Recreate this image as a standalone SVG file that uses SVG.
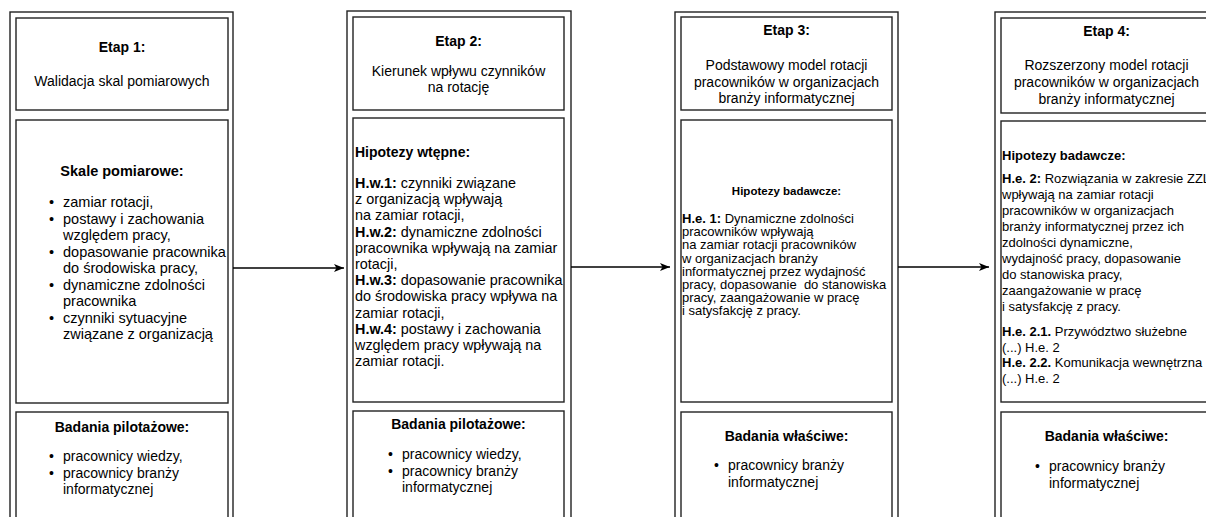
<svg xmlns="http://www.w3.org/2000/svg" width="1206" height="517" viewBox="0 0 1206 517">
  <defs>
    <marker id="arrow" markerWidth="11" markerHeight="10" refX="10" refY="5" orient="auto" markerUnits="userSpaceOnUse">
      <path d="M0,1 L10,5 L0,9 L2.5,5 Z" fill="#000"/>
    </marker>
    <style>
      .frame { fill: #fff; stroke: #222; stroke-width: 1.4; }
      .box { fill: #fff; stroke: #222; stroke-width: 1.4; }
      .link { stroke: #000; stroke-width: 1.3; fill: none; marker-end: url(#arrow); }
      text { font-family: "Liberation Sans", Arial, sans-serif; font-size: 14px; fill: #000; }
      .c { text-anchor: middle; }
      .b { font-weight: bold; }
      .m { font-size: 14.5px; }
      .h { font-size: 14.4px; }
      .s { font-size: 13px; }
      .xs { font-size: 11.5px; }
    </style>
  </defs>
  <rect width="1206" height="517" fill="#fff"/>

  <!-- Stage 1 -->
  <g id="stage1">
    <rect class="frame" x="10" y="12" width="223" height="530"/>
    <rect class="box" x="16" y="18" width="212" height="92"/>
    <text class="c b" x="122" y="52">Etap 1:</text>
    <text class="c" x="122" y="86">Walidacja skal pomiarowych</text>
    <rect class="box" x="16" y="120" width="212" height="283"/>
    <text class="c b m" x="122" y="176">Skale pomiarowe:</text>
    <g class="m">
      <text class="m" x="49" y="207">•</text><text class="m" x="63" y="207">zamiar rotacji,</text>
      <text class="m" x="49" y="223.5">•</text><text class="m" x="63" y="223.5">postawy i zachowania</text>
      <text class="m" x="63" y="240">względem pracy,</text>
      <text class="m" x="49" y="256.5">•</text><text class="m" x="63" y="256.5">dopasowanie pracownika</text>
      <text class="m" x="63" y="273">do środowiska pracy,</text>
      <text class="m" x="49" y="289.5">•</text><text class="m" x="63" y="289.5">dynamiczne zdolności</text>
      <text class="m" x="63" y="306">pracownika</text>
      <text class="m" x="49" y="322.5">•</text><text class="m" x="63" y="322.5">czynniki sytuacyjne</text>
      <text class="m" x="63" y="339">związane z organizacją</text>
    </g>
    <rect class="box" x="16" y="412" width="212" height="130"/>
    <text class="c b" x="122" y="432">Badania pilotażowe:</text>
    <text x="49" y="461">•</text><text x="63" y="461">pracownicy wiedzy,</text>
    <text x="49" y="477.5">•</text><text x="63" y="477.5">pracownicy branży</text>
    <text x="63" y="494">informatycznej</text>
  </g>

  <!-- Stage 2 -->
  <g id="stage2">
    <rect class="frame" x="347" y="11" width="224" height="530"/>
    <rect class="box" x="353" y="17" width="211" height="93"/>
    <text class="c b" x="458.5" y="46">Etap 2:</text>
    <text class="c" x="458.5" y="76">Kierunek wpływu czynników</text>
    <text class="c" x="458.5" y="92">na rotację</text>
    <rect class="box" x="353" y="118" width="211" height="284"/>
    <text class="b" x="355" y="157">Hipotezy wtępne:</text>
    <g class="h">
      <text class="h" x="355" y="188"><tspan class="b">H.w.1:</tspan> czynniki związane</text>
      <text class="h" x="355" y="204.2">z organizacją wpływają</text>
      <text class="h" x="355" y="220.4">na zamiar rotacji,</text>
      <text class="h" x="355" y="236.6"><tspan class="b">H.w.2:</tspan> dynamiczne zdolności</text>
      <text class="h" x="355" y="252.8">pracownika wpływają na zamiar</text>
      <text class="h" x="355" y="269">rotacji,</text>
      <text class="h" x="355" y="285.2"><tspan class="b">H.w.3:</tspan> dopasowanie pracownika</text>
      <text class="h" x="355" y="301.4">do środowiska pracy wpływa na</text>
      <text class="h" x="355" y="317.6">zamiar rotacji,</text>
      <text class="h" x="355" y="333.8"><tspan class="b">H.w.4:</tspan> postawy i zachowania</text>
      <text class="h" x="355" y="350">względem pracy wpływają na</text>
      <text class="h" x="355" y="366.2">zamiar rotacji.</text>
    </g>
    <rect class="box" x="353" y="411" width="211" height="130"/>
    <text class="c b" x="458.5" y="429">Badania pilotażowe:</text>
    <text x="388" y="459">•</text><text x="402" y="459">pracownicy wiedzy,</text>
    <text x="388" y="475.5">•</text><text x="402" y="475.5">pracownicy branży</text>
    <text x="402" y="492">informatycznej</text>
  </g>

  <!-- Stage 3 -->
  <g id="stage3">
    <rect class="frame" x="675" y="12" width="223" height="530"/>
    <rect class="box" x="681" y="17" width="211" height="93"/>
    <text class="c b" x="786.5" y="35">Etap 3:</text>
    <text class="c" x="786.5" y="70">Podstawowy model rotacji</text>
    <text class="c" x="786.5" y="86.5">pracowników w organizacjach</text>
    <text class="c" x="786.5" y="103">branży informatycznej</text>
    <rect class="box" x="681" y="120" width="211" height="282"/>
    <text class="c b xs" x="786.5" y="195">Hipotezy badawcze:</text>
    <g class="s">
      <text class="s" x="682" y="223"><tspan class="b">H.e. 1:</tspan> Dynamiczne zdolności</text>
      <text class="s" x="682" y="236.2">pracowników wpływają</text>
      <text class="s" x="682" y="249.4">na zamiar rotacji pracowników</text>
      <text class="s" x="682" y="262.6">w organizacjach branży</text>
      <text class="s" x="682" y="275.8">informatycznej przez wydajność</text>
      <text class="s" x="682" y="289" xml:space="preserve">pracy, dopasowanie  do stanowiska</text>
      <text class="s" x="682" y="302.2">pracy, zaangażowanie w pracę</text>
      <text class="s" x="682" y="315.4">i satysfakcję z pracy.</text>
    </g>
    <rect class="box" x="681" y="412" width="211" height="130"/>
    <text class="c b" x="786.5" y="441">Badania właściwe:</text>
    <text x="714" y="470">•</text><text x="728" y="470">pracownicy branży</text>
    <text x="728" y="487">informatycznej</text>
  </g>

  <!-- Stage 4 -->
  <g id="stage4">
    <rect class="frame" x="995" y="12" width="223" height="530"/>
    <rect class="box" x="1001" y="18" width="211" height="95"/>
    <text class="c b" x="1106.5" y="36">Etap 4:</text>
    <text class="c" x="1106.5" y="70">Rozszerzony model rotacji</text>
    <text class="c" x="1106.5" y="87">pracowników w organizacjach</text>
    <text class="c" x="1106.5" y="104">branży informatycznej</text>
    <rect class="box" x="1001" y="121" width="211" height="281"/>
    <text class="b s" x="1002" y="160">Hipotezy badawcze:</text>
    <g class="s">
      <text class="s" x="1002" y="183"><tspan class="b">H.e. 2:</tspan> Rozwiązania w zakresie ZZL</text>
      <text class="s" x="1002" y="199">wpływają na zamiar rotacji</text>
      <text class="s" x="1002" y="215">pracowników w organizacjach</text>
      <text class="s" x="1002" y="231">branży informatycznej przez ich</text>
      <text class="s" x="1002" y="247">zdolności dynamiczne,</text>
      <text class="s" x="1002" y="263">wydajność pracy, dopasowanie</text>
      <text class="s" x="1002" y="279">do stanowiska pracy,</text>
      <text class="s" x="1002" y="295">zaangażowanie w pracę</text>
      <text class="s" x="1002" y="311">i satysfakcję z pracy.</text>
      <text class="s" x="1002" y="336"><tspan class="b">H.e. 2.1.</tspan> Przywództwo służebne</text>
      <text class="s" x="1002" y="351.5">(...) H.e. 2</text>
      <text class="s" x="1002" y="367"><tspan class="b">H.e. 2.2.</tspan> Komunikacja wewnętrzna</text>
      <text class="s" x="1002" y="382.5">(...) H.e. 2</text>
    </g>
    <rect class="box" x="1001" y="412" width="211" height="130"/>
    <text class="c b" x="1106.5" y="441">Badania właściwe:</text>
    <text x="1035" y="471">•</text><text x="1049" y="471">pracownicy branży</text>
    <text x="1049" y="488">informatycznej</text>
  </g>

  <!-- Connectors between stages -->
  <g id="connectors">
    <path class="link" d="M233,268 L344,268"/>
    <path class="link" d="M571,267 L670,267"/>
    <path class="link" d="M898,267 L989,267"/>
  </g>
</svg>
